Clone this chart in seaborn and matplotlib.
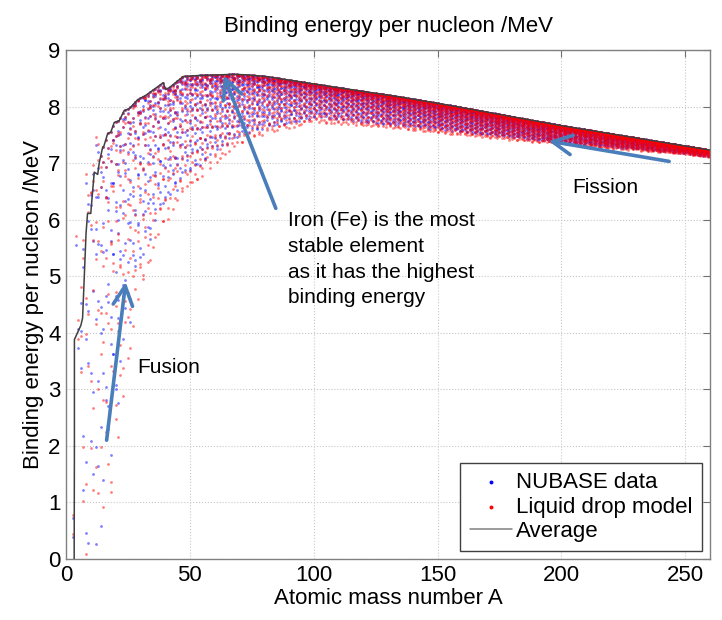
import numpy as np
import pandas as pd
import matplotlib
matplotlib.use("Agg")
import matplotlib.pyplot as plt
import seaborn as sns

# Semi-empirical mass formula coefficients (MeV): aV, aS, aC, aA, aP
# The NUBASE table is not available offline, so its points are approximated
# with a second coefficient set.
ldm_coef = [15.75, 17.8, 0.711, 23.7, 11.18]
nubase_coef = [15.80, 18.3, 0.714, 21.5, 12.0]

# width of the populated band below the top (MeV per nucleon)
band_A = [2, 10, 20, 25, 30, 40, 50, 70, 100, 155, 200, 250, 260]
band_width = [9.0, 7.5, 5.3, 4.0, 3.1, 2.1, 1.75, 1.1, 0.6, 0.45, 0.3, 0.13, 0.12]

# "Average" line
avg_A = [3.3, 3.4, 3.4, 6.0, 6.7, 8.1, 8.7, 10.0, 11.4, 12.8, 13.4, 14.8, 15.3,
         16.8, 18.1, 19.5, 21.5, 23.5, 25.5, 28.9, 32.3, 39.2, 40.3, 41.9, 47.3,
         54, 62, 67.5, 73, 81, 100, 121, 135, 155, 199, 260]
avg_BE = [0.0, 1.96, 3.88, 4.13, 4.26, 5.76, 6.11, 6.11, 6.84, 6.80, 7.00, 7.28, 7.30,
          7.52, 7.55, 7.72, 7.75, 7.93, 7.96, 8.12, 8.20, 8.42, 8.30, 8.34, 8.53,
          8.55, 8.56, 8.57, 8.56, 8.53, 8.40, 8.26, 8.17, 8.02, 7.67, 7.23]


def be_per_nucleon(A, Z, c):
    aV, aS, aC, aA, aP = c
    N = A - Z
    sign = np.where((Z % 2 == 0) & (N % 2 == 0), 1.0,
                    np.where((Z % 2 == 1) & (N % 2 == 1), -1.0, 0.0))
    B = (aV * A - aS * A ** (2 / 3) - aC * Z * (Z - 1) / A ** (1 / 3)
         - aA * (A - 2 * Z) ** 2 / A + sign * aP / np.sqrt(A))
    return B / A


def nuclides(c, widen):
    rows = []
    for A in range(2, 261):
        Z = np.arange(1, min(A, 111))
        be = be_per_nucleon(A, Z, c)
        if A >= 14:
            # pin the top of each isobar to the line seen in the chart
            be = be - be.max() + np.interp(A, avg_A, avg_BE)
        win = np.interp(A, band_A, band_width) * widen
        keep = (be >= be.max() - win) & (be > 0)
        rows += [(A, z, b) for z, b in zip(Z[keep], be[keep])]
    return pd.DataFrame(rows, columns=["A", "Z", "BE"])


nubase = nuclides(nubase_coef, 1.0)
ldm = nuclides(ldm_coef, 1.12)

sns.set_theme(style="white")
plt.rcParams["font.family"] = ["Liberation Sans", "DejaVu Sans"]
plt.rcParams["text.color"] = "black"
plt.rcParams["axes.labelcolor"] = "black"

fig, ax = plt.subplots(figsize=(7.22, 6.2), dpi=100)
fig.subplots_adjust(left=0.0914, right=0.9834, bottom=0.0984, top=0.9194)

sns.scatterplot(data=nubase, x="A", y="BE", color="#0000ff", marker="o", s=4,
                linewidth=0, alpha=0.5, ax=ax, label="NUBASE data")
sns.scatterplot(data=ldm, x="A", y="BE", color="#ff0000", marker="o", s=4,
                linewidth=0, alpha=0.5, ax=ax, label="Liquid drop model")
sns.lineplot(x=avg_A, y=avg_BE, sort=False, estimator=None, color="#404040",
             lw=1.1, ax=ax, label="Average")

ax.set_xlim(0, 260)
ax.set_ylim(0, 9)
ax.set_xticks([0, 50, 100, 150, 200, 250])
ax.set_yticks(range(0, 10))
ax.grid(True, linestyle=":", color="#c8c8c8", lw=0.8)
ax.tick_params(direction="in", top=True, right=True, length=5, width=0.8,
               labelsize=16, color="#707070", labelcolor="black", pad=4)
for s in ax.spines.values():
    s.set_color("#808080")
    s.set_linewidth(1.0)

ax.set_title("Binding energy per nucleon /MeV", fontsize=16, pad=13, color="black")
ax.set_xlabel("Atomic mass number A", fontsize=16, labelpad=2)
ax.set_ylabel("Binding energy per nucleon /MeV", fontsize=16, labelpad=3)

leg = ax.legend(loc="lower right", fontsize=16, frameon=True, fancybox=False,
                edgecolor="#404040", framealpha=1, markerscale=1.4,
                labelspacing=0.15, handlelength=1.9, handletextpad=0.2,
                borderpad=0.42, borderaxespad=0.35)
leg.get_frame().set_linewidth(1.0)
for h in leg.legend_handles:
    h.set_alpha(1)
for t in leg.get_texts():
    t.set_color("black")
for ln in leg.get_lines():
    ln.set_color("#808080")

arrow_col = "#4a7ebb"
aprops = dict(arrowstyle="->,head_length=0.7,head_width=0.35", lw=2.6,
              color=arrow_col, mutation_scale=20, shrinkA=0, shrinkB=0)
ax.annotate("", xy=(63.7, 8.55), xytext=(84.7, 6.2), arrowprops=aprops)
ax.annotate("", xy=(24.1, 4.9), xytext=(16.4, 2.1), arrowprops=aprops)
ax.annotate("", xy=(194.8, 7.39), xytext=(243.5, 7.03), arrowprops=aprops)

ax.text(89.5, 6.15, "Iron (Fe) is the most\nstable element\nas it has the highest\nbinding energy",
        fontsize=15, va="top", ha="left", linespacing=1.45)
ax.text(28.6, 3.39, "Fusion", fontsize=15, va="center", ha="left")
ax.text(204.4, 6.57, "Fission", fontsize=15, va="center", ha="left")

fig.savefig("out.png", dpi=100)
